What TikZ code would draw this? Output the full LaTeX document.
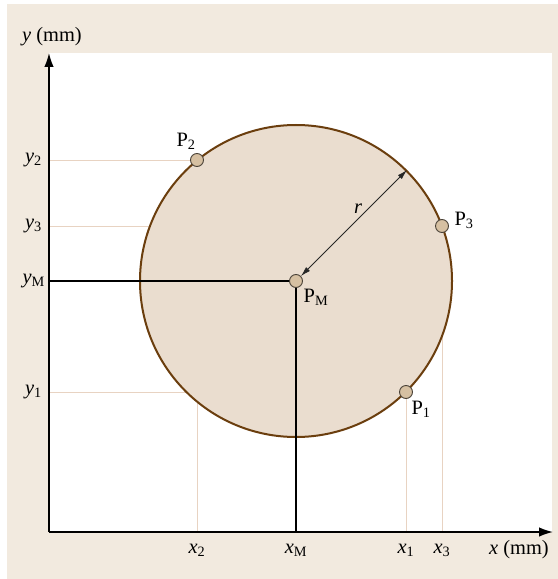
\documentclass[tikz,border=0pt]{standalone}
\usepackage{fontspec}
\setmainfont{Liberation Serif}
\usetikzlibrary{arrows.meta}
\definecolor{bgbeige}{HTML}{F2EADF}
\definecolor{discfill}{HTML}{EADDCF}
\definecolor{discedge}{HTML}{6B3E0E}
\definecolor{guide}{HTML}{E8D3C2}
\definecolor{ptfill}{HTML}{D6C0A2}
\definecolor{ptedge}{HTML}{4A4238}
\begin{document}
\begin{tikzpicture}[x=1bp,y=-1bp,
  every node/.style={font=\fontsize{20.5}{23}\selectfont, inner sep=0pt},
  guideline/.style={draw=guide, line width=0.9bp},
  axisline/.style={draw=black, line width=1.5bp, -{Latex[length=14bp,width=9.5bp]}},
  centerline/.style={draw=black, line width=1.3bp},
  ptnode/.style={circle, draw=ptedge, fill=ptfill, line width=0.9bp, minimum size=13bp},
  radarrow/.style={draw=black!85, line width=0.8bp, {Latex[length=10bp,width=5.5bp]}-{Latex[length=10bp,width=5.5bp]}},
  disc/.style={circle, draw=discedge, fill=discfill, line width=2bp, minimum size=312bp}
]
\useasboundingbox (0,0) rectangle (558,579);
\fill[bgbeige] (7,4) rectangle (558,579);
\fill[white] (49,53) rectangle (552,532);

% coordinates
\coordinate (O) at (49,532);
\coordinate (Ytop) at (49,53);
\coordinate (Xend) at (553,532);
\coordinate (ay2) at (49,160);
\coordinate (ay3) at (49,226);
\coordinate (ayM) at (49,281);
\coordinate (ay1) at (49,392);
\coordinate (ax2) at (197,532);
\coordinate (axM) at (296,532);
\coordinate (ax1) at (406,532);
\coordinate (ax3) at (442,532);

% point positions
\path (197,160) coordinate (cP2);
\path (442,226) coordinate (cP3);
\path (296,281) coordinate (cPM);
\path (406,392) coordinate (cP1);

% guide lines
\draw[guideline] (ay2) -- (cP2);
\draw[guideline] (ay3) -- (cP3);
\draw[guideline] (ay1) -- (cP1);
\draw[guideline] (ax2) -- (cP2);
\draw[guideline] (ax1) -- (cP1);
\draw[guideline] (ax3) -- (cP3);

% disc
\node[disc] (circ) at (cPM) {};

% centre lines
\draw[centerline] (ayM) -- (cPM) -- (axM);

% axes
\draw[axisline] (O) -- (Ytop);
\draw[axisline] (O) -- (Xend);

% points
\node[ptnode] (P2) at (cP2) {};
\node[ptnode] (P3) at (cP3) {};
\node[ptnode] (P1) at (cP1) {};
\node[ptnode] (PM) at (cPM) {};

% radius arrow
\draw[radarrow] (PM) -- (circ.45);
\node (rlab) at (358,209) {\itshape r};

% point labels
\node (lP2) at (186,141) {P\textsubscript{2}};
\node (lP3) at (464,220) {P\textsubscript{3}};
\node (lPM) at (316,297) {P\textsubscript{M}};
\node (lP1) at (421,409) {P\textsubscript{1}};

% axis labels
\node (ylab) at (52,37) {{\itshape y} (mm)};
\node (xlab) at (519,550) {{\itshape x} (mm)};

\node[anchor=east] (ly2) at (42,160) {{\itshape y}\textsubscript{2}};
\node[anchor=east] (ly3) at (42,226) {{\itshape y}\textsubscript{3}};
\node[anchor=east] (lyM) at (45,281) {{\itshape y}\textsubscript{M}};
\node[anchor=east] (ly1) at (42,392) {{\itshape y}\textsubscript{1}};

\node (lx2) at (197,550) {{\itshape x}\textsubscript{2}};
\node (lxM) at (296,550) {{\itshape x}\textsubscript{M}};
\node (lx1) at (406,550) {{\itshape x}\textsubscript{1}};
\node (lx3) at (442,550) {{\itshape x}\textsubscript{3}};
\end{tikzpicture}
\end{document}
